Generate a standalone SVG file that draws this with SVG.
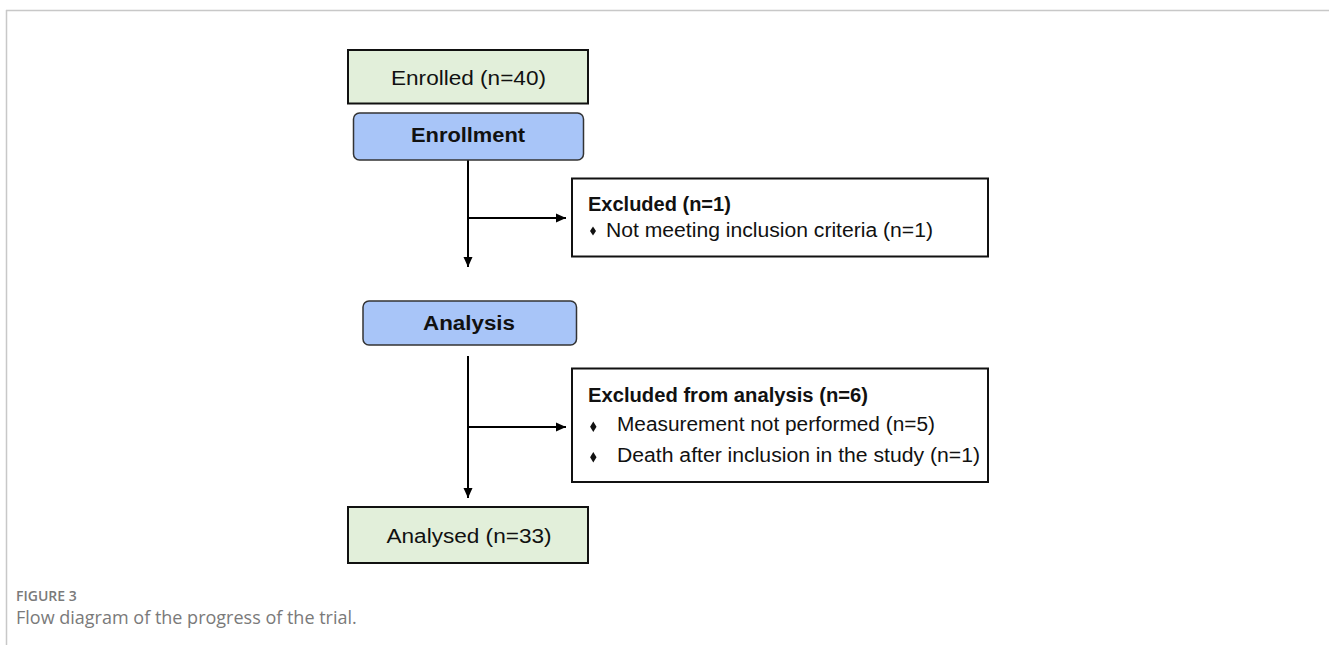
<svg xmlns="http://www.w3.org/2000/svg" width="1329" height="645" viewBox="0 0 1329 645">
<style>
.green{fill:#e2efda;stroke:#111;stroke-width:2}
.blue{fill:#a8c5f8;stroke:#333;stroke-width:1.5}
.white{fill:#fff;stroke:#111;stroke-width:2}
.lbl{font-family:"Liberation Sans",Arial,sans-serif;font-size:20px;fill:#111}
.b{font-weight:bold}
.conn{stroke:#000;stroke-width:2;fill:none}
.bul{fill:#111}
.cap{font-family:"Open Sans","Noto Sans",sans-serif;fill:#7a7a7a}
</style>
<defs>
<marker id="ah" viewBox="0 0 10 10" refX="10" refY="5" markerWidth="10" markerHeight="10" markerUnits="userSpaceOnUse" orient="auto">
<path d="M0,0.5 L10,5 L0,9.5 Z" fill="#000"/>
</marker>
</defs>
<rect width="1329" height="645" fill="#fff"/>
<g id="frame">
<line x1="6" y1="10.5" x2="1329" y2="10.5" stroke="#c8c8c8" stroke-width="1.5"/>
<line x1="6.5" y1="10" x2="6.5" y2="645" stroke="#c8c8c8" stroke-width="1.5"/>
</g>
<g id="connectors">
<line class="conn" x1="468" y1="160" x2="468" y2="267" marker-end="url(#ah)"/>
<line class="conn" x1="468" y1="218" x2="566" y2="218" marker-end="url(#ah)"/>
<line class="conn" x1="468" y1="356" x2="468" y2="498" marker-end="url(#ah)"/>
<line class="conn" x1="468" y1="427" x2="566" y2="427" marker-end="url(#ah)"/>
</g>
<g id="enrolled">
<rect class="green" x="348" y="50" width="240" height="53.5"/>
<text class="lbl" x="468.5" y="85" text-anchor="middle" textLength="155" lengthAdjust="spacingAndGlyphs">Enrolled (n=40)</text>
</g>
<g id="enrollment">
<rect class="blue" x="353.5" y="113" width="230" height="47" rx="6"/>
<text class="lbl b" x="468" y="142" text-anchor="middle" textLength="114" lengthAdjust="spacingAndGlyphs">Enrollment</text>
</g>
<g id="excluded1">
<rect class="white" x="572" y="178.5" width="416" height="78"/>
<text class="lbl b" x="588" y="211">Excluded (n=1)</text>
<polygon class="bul" points="593,226.5 596,231 593,235.5 590,231"/>
<text class="lbl" x="606" y="237" textLength="327" lengthAdjust="spacingAndGlyphs">Not meeting inclusion criteria (n=1)</text>
</g>
<g id="analysis">
<rect class="blue" x="363" y="301" width="213.5" height="44" rx="6"/>
<text class="lbl b" x="469" y="330" text-anchor="middle" textLength="92" lengthAdjust="spacingAndGlyphs">Analysis</text>
</g>
<g id="excluded2">
<rect class="white" x="572" y="368.5" width="416" height="113.5"/>
<text class="lbl b" x="588" y="401.5" textLength="280" lengthAdjust="spacingAndGlyphs">Excluded from analysis (n=6)</text>
<polygon class="bul" points="593.3,421.5 596.5,426.7 593.3,431.9 590.1,426.7"/>
<text class="lbl" x="617" y="431" textLength="318" lengthAdjust="spacingAndGlyphs">Measurement not performed (n=5)</text>
<polygon class="bul" points="593.3,452 596.5,457.2 593.3,462.4 590.1,457.2"/>
<text class="lbl" x="617" y="462" textLength="363" lengthAdjust="spacingAndGlyphs">Death after inclusion in the study (n=1)</text>
</g>
<g id="analysed">
<rect class="green" x="348" y="507" width="240" height="56"/>
<text class="lbl" x="469" y="543" text-anchor="middle" textLength="165" lengthAdjust="spacingAndGlyphs">Analysed (n=33)</text>
</g>
<g id="caption">
<text class="cap" x="16" y="601" font-size="14" font-weight="600">FIGURE 3</text>
<text class="cap" x="16" y="624" font-size="18">Flow diagram of the progress of the trial.</text>
</g>
</svg>
